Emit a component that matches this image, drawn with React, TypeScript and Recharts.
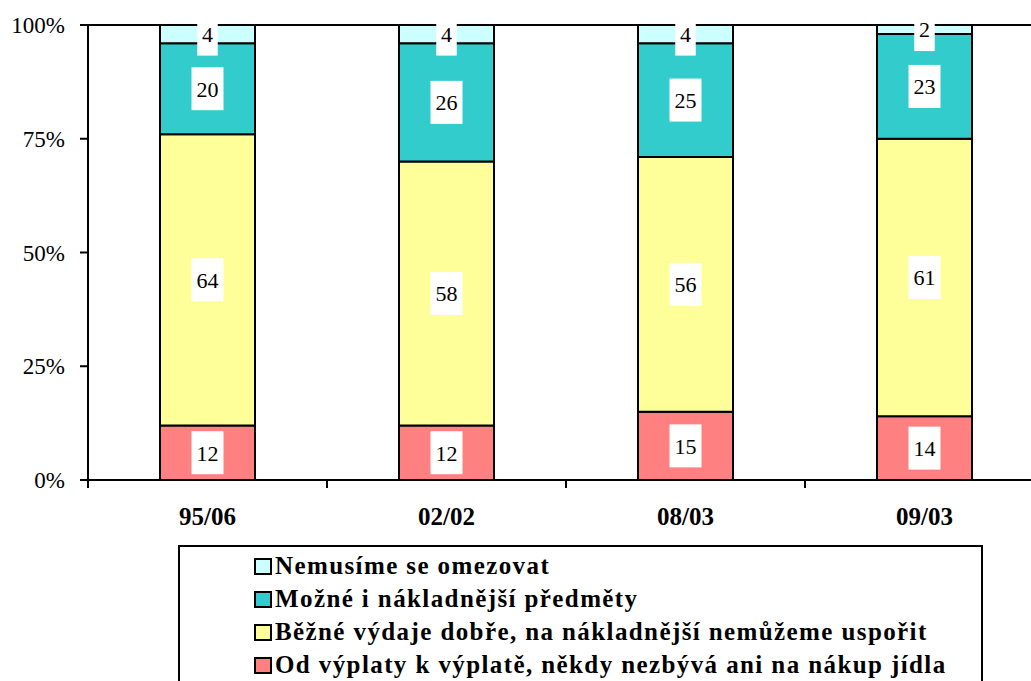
import React from 'react';
import { BarChart, Bar, XAxis, YAxis, LabelList, ReferenceLine } from 'recharts';

const categories = ['95/06', '02/02', '08/03', '09/03'];
const odVyplaty = [12, 12, 15, 14];
const bezne = [64, 58, 56, 61];
const mozne = [20, 26, 25, 23];
const nemusime = [4, 4, 4, 2];
const yTicks = [0, 25, 50, 75, 100];

const series = [
  { key: 'od', name: 'Od výplaty k výplatě, někdy nezbývá ani na nákup jídla', color: '#FF8080', values: odVyplaty },
  { key: 'bezne', name: 'Běžné výdaje dobře, na nákladnější nemůžeme uspořit', color: '#FFFF99', values: bezne },
  { key: 'mozne', name: 'Možné i nákladnější předměty', color: '#33CCCC', values: mozne },
  { key: 'nemusime', name: 'Nemusíme se omezovat', color: '#CCFFFF', values: nemusime },
];

const data = categories.map((c, i) => {
  const row: any = { cat: c };
  series.forEach((s) => { row[s.key] = s.values[i]; });
  return row;
});

const SERIF = "Liberation Serif, Times New Roman, Tinos, DejaVu Serif, serif";
const PLOT_W = 956;
const BAND = PLOT_W / categories.length;

const renderLabel = (props: any) => {
  const { x, y, width, height, value } = props;
  const cx = Number(x) + Number(width) / 2;
  const cy = Number(y) + Number(height) / 2;
  const s = String(value);
  const w = s.length * 11.5 + 9;
  return (
    <g>
      <rect x={cx - w / 2} y={cy - 21.5} width={w} height={43} fill="#fff" />
      <text x={cx} y={cy} dy="0.36em" textAnchor="middle" fontSize={22} style={{ fontFamily: SERIF }} fill="#000">
        {s}
      </text>
    </g>
  );
};

const XTick = (props: any) => {
  const { x, y, payload } = props;
  const left = x - BAND / 2;
  return (
    <g>
      <line x1={left} y1={y - 1} x2={left} y2={y + 8} stroke="#000" strokeWidth={2} />
      <text x={x} y={y + 45} textAnchor="middle" fontSize={25} fontWeight="bold" style={{ fontFamily: SERIF }} fill="#000">
        {payload.value}
      </text>
    </g>
  );
};

export default function App() {
  const legendItems = [...series].reverse();
  return (
    <div style={{ position: 'absolute', left: 0, top: 0, width: 1031, height: 681, overflow: 'hidden', background: '#fff', fontFamily: SERIF }}>
      <BarChart
        width={1060}
        height={681}
        data={data}
        margin={{ top: 25, right: 16, left: 0, bottom: 141 }}
        barCategoryGap={0}
        style={{ fontFamily: SERIF }}
      >
        <XAxis
          dataKey="cat"
          height={60}
          axisLine={{ stroke: '#000', strokeWidth: 2 }}
          tickLine={false}
          tickSize={0}
          tickMargin={0}
          tick={<XTick />}
          interval={0}
        />
        <YAxis
          width={88}
          domain={[0, 100]}
          ticks={yTicks}
          tickFormatter={(v: number) => `${v}%`}
          axisLine={{ stroke: '#000', strokeWidth: 2 }}
          tickLine={{ stroke: '#000', strokeWidth: 2 }}
          tickSize={8}
          tickMargin={15}
          tick={{ fontSize: 23, fontFamily: SERIF, fill: '#000', style: { fontFamily: SERIF } }}
          interval={0}
        />
        {series.map((s) => (
          <Bar
            key={s.key}
            dataKey={s.key}
            name={s.name}
            stackId="a"
            fill={s.color}
            stroke="#000"
            strokeWidth={2}
            barSize={95}
            isAnimationActive={false}
          >
            <LabelList dataKey={s.key} content={renderLabel} />
          </Bar>
        ))}
        <ReferenceLine y={100} stroke="#000" strokeWidth={2} />
      </BarChart>
      <div
        style={{
          position: 'absolute',
          left: 178,
          top: 545,
          width: 805,
          height: 200,
          border: '2px solid #000',
          boxSizing: 'border-box',
          background: '#fff',
        }}
      >
        {legendItems.map((s, i) => (
          <div
            key={s.key}
            style={{
              position: 'absolute',
              left: 74,
              top: 3 + i * 33,
              height: 32,
              lineHeight: '32px',
              display: 'flex',
              alignItems: 'center',
              whiteSpace: 'nowrap',
              fontFamily: SERIF,
              fontWeight: 'bold',
              fontSize: 25,
              letterSpacing: 1.4,
              color: '#000',
            }}
          >
            <span
              style={{
                display: 'inline-block',
                width: 14,
                height: 13,
                background: s.color,
                border: '2px solid #000',
                marginRight: 3,
              }}
            />
            {s.name}
          </div>
        ))}
      </div>
    </div>
  );
}
